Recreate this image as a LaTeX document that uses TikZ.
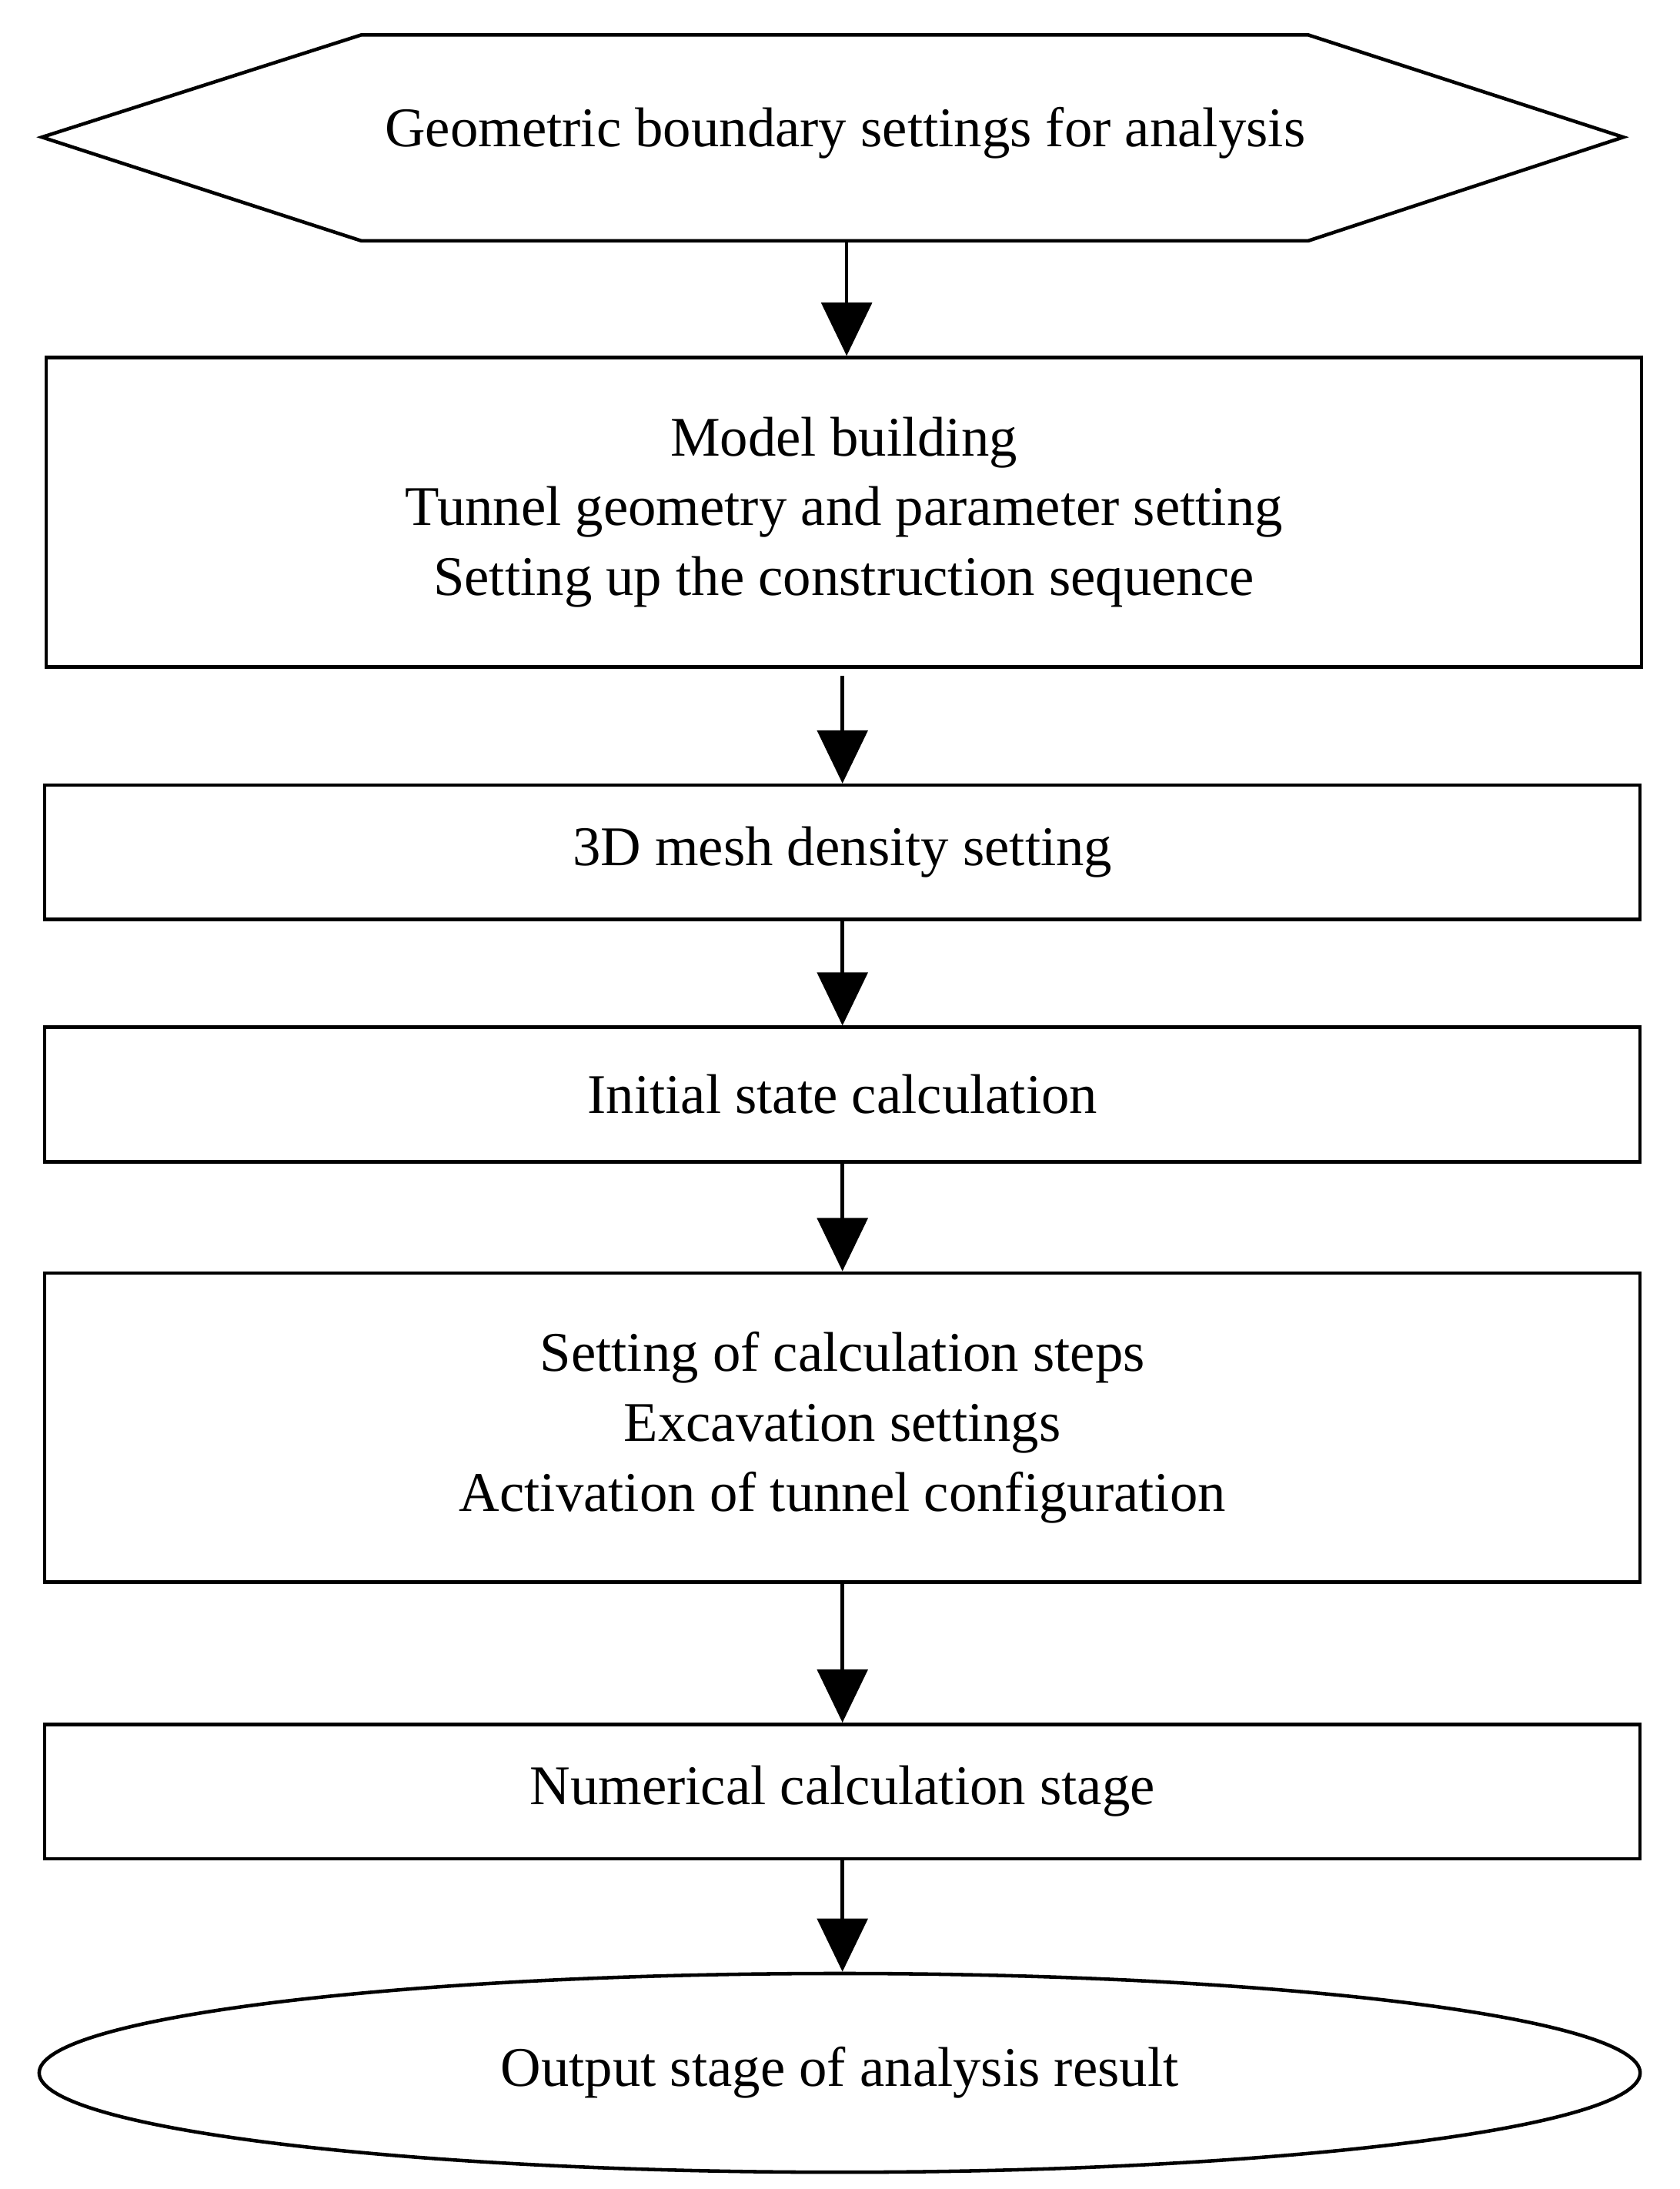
\documentclass[tikz,border=0pt]{standalone}
\usepackage{fontspec}
\setmainfont{Liberation Serif}
\usetikzlibrary{arrows.meta,shapes.geometric}
\begin{document}
\begin{tikzpicture}[x=1pt,y=-1pt,
  box/.style={draw,line width=2.5pt,minimum width=1140pt,inner sep=0pt,align=center,font=\fontsize{40}{50}\selectfont},
  arr/.style={line width=2.5pt,-{Triangle[width=36pt,length=38pt]}},
  lbl/.style={font=\fontsize{40}{50}\selectfont,align=center}]
\useasboundingbox (0,0) rectangle (1200,1564);
\draw[line width=2.5pt] (30,98) -- (258,25) -- (935,25) -- (1160,98) -- (935,172) -- (258,172) -- cycle;
\node[lbl] (hex) at (604,95) {Geometric boundary settings for analysis};
\coordinate (hexb) at (605,172);
\node[box,minimum height=221pt] (b1) at (603,366) {Model building\\Tunnel geometry and parameter setting\\Setting up the construction sequence};
\node[box,minimum height=96pt] (b2) at (602,609) {3D mesh density setting};
\node[box,minimum height=96pt] (b3) at (602,782) {Initial state calculation};
\node[box,minimum height=221pt] (b4) at (602,1020) {Setting of calculation steps\\Excavation settings\\Activation of tunnel configuration};
\node[box,minimum height=96pt] (b5) at (602,1280) {Numerical calculation stage};
\node[draw,ellipse,line width=2.5pt,minimum width=1144pt,minimum height=142pt,inner sep=0pt,lbl] (e) at (600,1481) {Output stage of analysis result};
\draw[arr] (hexb) -- (hexb |- b1.north);
\draw[arr] ([yshift=-5pt]b2.north |- b1.south) -- (b2.north);
\draw[arr] (b2.south) -- (b3.north);
\draw[arr] (b3.south) -- (b4.north);
\draw[arr] (b4.south) -- (b5.north);
\draw[arr] (b5.south) -- (b5.south |- e.north);
\end{tikzpicture}
\end{document}
